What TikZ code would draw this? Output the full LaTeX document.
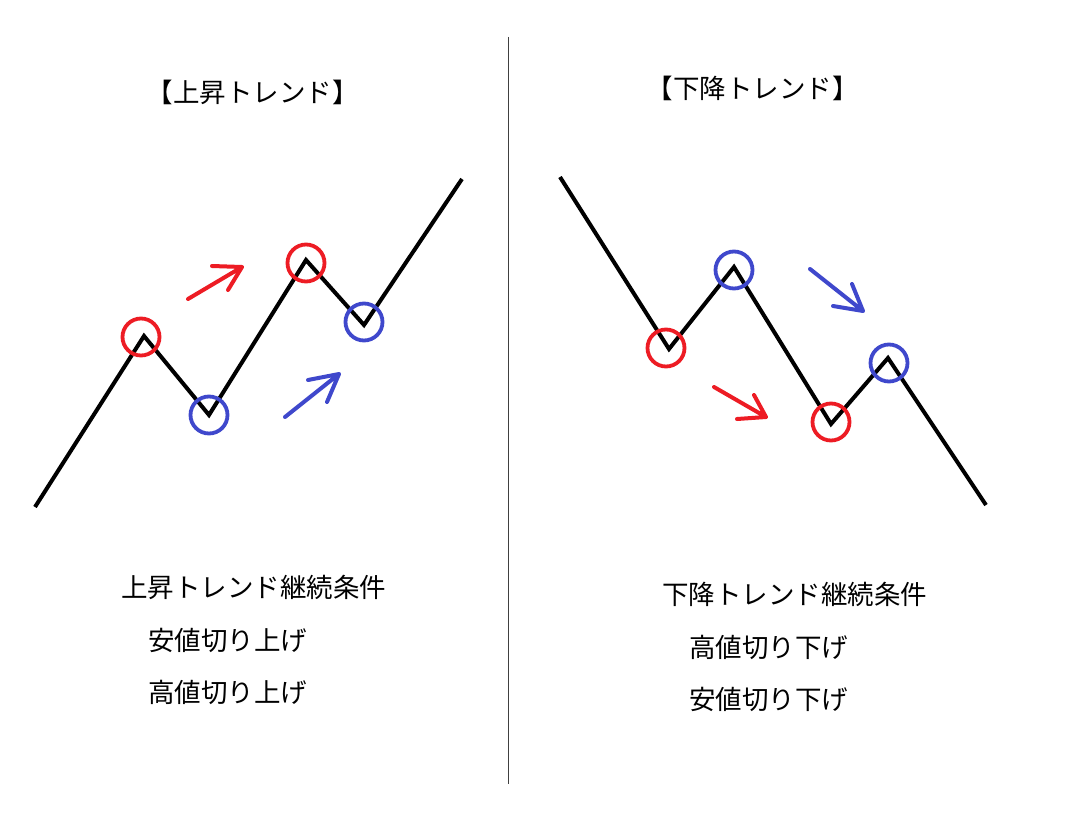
\documentclass[tikz,border=0pt]{standalone}
\usepackage{fontspec}
\newfontfamily\cjk{Noto Sans CJK JP}
\definecolor{pred}{RGB}{237,28,36}
\definecolor{pblue}{RGB}{63,72,204}
\begin{document}
\begin{tikzpicture}[x=1pt,y=-1pt,
  trend/.style={line width=4pt,black,line join=miter},
  ring/.style={circle,minimum size=37pt,inner sep=0pt,line width=3.8pt},
  redring/.style={ring,draw=pred},
  bluering/.style={ring,draw=pblue},
  parrow/.style={line width=4pt,line cap=round,line join=round},
  lbl/.style={inner sep=0pt,font=\cjk\fontsize{26.5}{30}\selectfont},
  divider/.style={line width=1pt,black!75}]
\useasboundingbox[fill=white] (0,0) rectangle (1073,816);
% divider
\coordinate (dtop) at (508,37);
\coordinate (dbot) at (508,784);
\draw[divider] (dtop) -- (dbot);
% titles
\node[lbl] (tl) at (252.5,92) {【上昇トレンド】};
\node[lbl] (tr) at (752.5,88) {【下降トレンド】};
% left trend
\coordinate (L0) at (35,507);
\coordinate (L1) at (144,336);
\coordinate (L2) at (209,415);
\coordinate (L3) at (306,260);
\coordinate (L4) at (364,325);
\coordinate (L5) at (462,179);
\draw[trend] (L0) -- (L1) -- (L2) -- (L3) -- (L4) -- (L5);
\node[redring] (lc1) at (141,337) {};
\node[bluering] (lc2) at (209,415) {};
\node[redring] (lc3) at (306,263) {};
\node[bluering] (lc4) at (364,322) {};
% left arrows
\coordinate (la1s) at (188,299);
\coordinate (la1t) at (242,267);
\coordinate (la1a) at (212,266);
\coordinate (la1b) at (228,290);
\draw[parrow,pred] (la1s) -- (la1t) (la1a) -- (la1t) -- (la1b);
\coordinate (la2s) at (285,417);
\coordinate (la2t) at (339,374);
\coordinate (la2a) at (308,380);
\coordinate (la2b) at (327,402);
\draw[parrow,pblue] (la2s) -- (la2t) (la2a) -- (la2t) -- (la2b);
% right trend
\coordinate (R0) at (560,177);
\coordinate (R1) at (669,349);
\coordinate (R2) at (734,267);
\coordinate (R3) at (831,424);
\coordinate (R4) at (888,358);
\coordinate (R5) at (986,505);
\draw[trend] (R0) -- (R1) -- (R2) -- (R3) -- (R4) -- (R5);
\node[redring] (rc1) at (666,348) {};
\node[bluering] (rc2) at (734,270) {};
\node[redring] (rc3) at (831,422) {};
\node[bluering] (rc4) at (889,363) {};
% right arrows
\coordinate (ra1s) at (810,269);
\coordinate (ra1t) at (863,311);
\coordinate (ra1a) at (833,306);
\coordinate (ra1b) at (852,284);
\draw[parrow,pblue] (ra1s) -- (ra1t) (ra1a) -- (ra1t) -- (ra1b);
\coordinate (ra2s) at (714,387);
\coordinate (ra2t) at (766,417);
\coordinate (ra2a) at (737,419);
\coordinate (ra2b) at (754,395);
\draw[parrow,pred] (ra2s) -- (ra2t) (ra2a) -- (ra2t) -- (ra2b);
% bottom texts
\node[lbl,anchor=west] (lt1) at (121,587) {上昇トレンド継続条件};
\node[lbl,anchor=west] (lt2) at (148,640) {安値切り上げ};
\node[lbl,anchor=west] (lt3) at (148,692) {高値切り上げ};
\node[lbl,anchor=west] (rt1) at (662,594) {下降トレンド継続条件};
\node[lbl,anchor=west] (rt2) at (689,647) {高値切り下げ};
\node[lbl,anchor=west] (rt3) at (689,699) {安値切り下げ};
\end{tikzpicture}
\end{document}
